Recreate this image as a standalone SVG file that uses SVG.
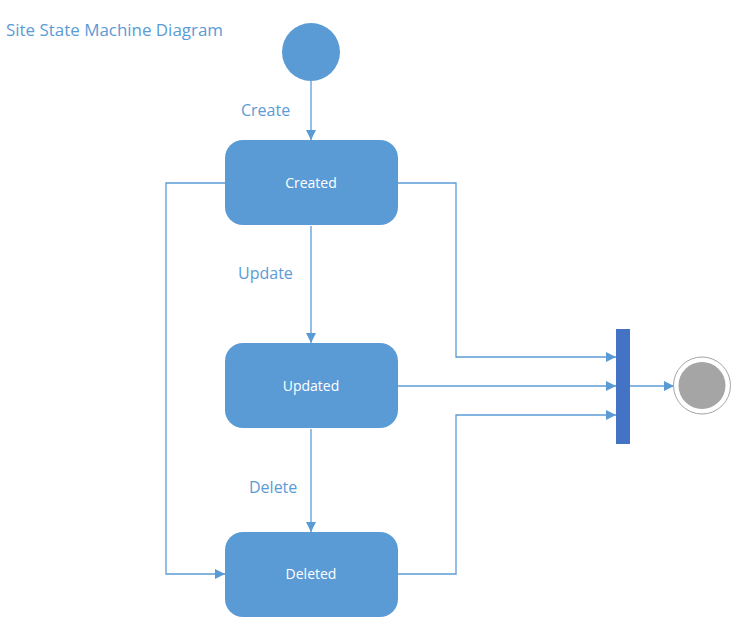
<svg xmlns="http://www.w3.org/2000/svg" width="748" height="640" viewBox="0 0 748 640">
<style>
.state{fill:#5B9BD5}
.stxt{font-family:"Open Sans","Noto Sans",sans-serif;font-size:14px;fill:#FFFFFF;text-anchor:middle}
.lbl{font-family:"Open Sans","Noto Sans",sans-serif;font-size:16px;fill:#5B9BD5}
.conn{fill:none;stroke:#5B9BD5;stroke-width:1.3}
</style>
<defs>
<marker id="arr" viewBox="0 0 10 10" refX="10" refY="5" markerWidth="10" markerHeight="10" markerUnits="userSpaceOnUse" orient="auto">
<path d="M0,0 L10,5 L0,10 Z" fill="#5B9BD5"/>
</marker>
</defs>
<rect width="748" height="640" fill="#FFFFFF"/>
<text id="title" class="lbl" x="6" y="36" textLength="217" lengthAdjust="spacingAndGlyphs">Site State Machine Diagram</text>
<g id="connectors">
<path class="conn" d="M311,81 V140" marker-end="url(#arr)"/>
<path class="conn" d="M311,226 V343" marker-end="url(#arr)"/>
<path class="conn" d="M311,429 V532" marker-end="url(#arr)"/>
<path class="conn" d="M225,183 H166 V574 H225" marker-end="url(#arr)"/>
<path class="conn" d="M398,183 H456 V357 H616" marker-end="url(#arr)"/>
<path class="conn" d="M398,386 H616" marker-end="url(#arr)"/>
<path class="conn" d="M398,574 H456 V415 H616" marker-end="url(#arr)"/>
<path class="conn" d="M630,386 H674" marker-end="url(#arr)"/>
<text class="lbl" x="241" y="116">Create</text>
<text class="lbl" x="238" y="279">Update</text>
<text class="lbl" x="249" y="493">Delete</text>
</g>
<g id="start">
<circle cx="311" cy="52" r="29" class="state"/>
</g>
<g id="created">
<rect x="225" y="140" width="173" height="85" rx="18" class="state"/>
<text class="stxt" x="311" y="188">Created</text>
</g>
<g id="updated">
<rect x="225" y="343" width="173" height="85" rx="18" class="state"/>
<text class="stxt" x="311" y="391">Updated</text>
</g>
<g id="deleted">
<rect x="225" y="532" width="173" height="85" rx="18" class="state"/>
<text class="stxt" x="311" y="579">Deleted</text>
</g>
<g id="join">
<rect x="616" y="329" width="14" height="115" fill="#4472C4"/>
</g>
<g id="end">
<circle cx="702" cy="385.5" r="28.5" fill="#FFFFFF" stroke="#A5A5A5" stroke-width="1"/>
<circle cx="702" cy="385.5" r="23.5" fill="#A5A5A5"/>
</g>
</svg>
